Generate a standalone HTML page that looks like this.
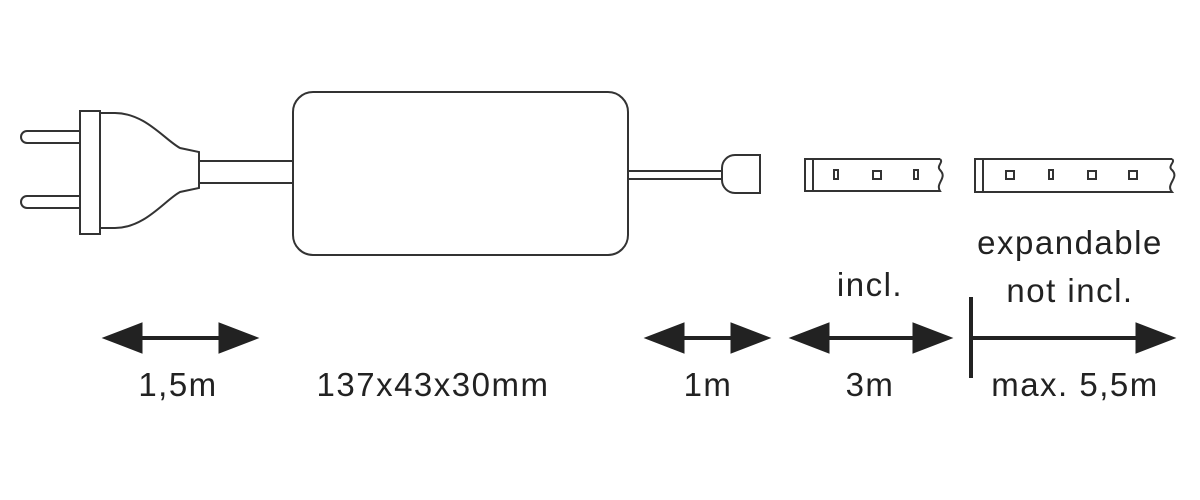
<!DOCTYPE html>
<html><head><style>body{margin:0;background:#fff}svg{display:block}</style></head><body>
<svg width="1200" height="500" viewBox="0 0 1200 500" xmlns="http://www.w3.org/2000/svg">
<g fill="none" stroke="#333" stroke-width="2">
<path d="M80 131 H27 a6 6 0 0 0 0 12 H80"/>
<path d="M80 196 H27 a6 6 0 0 0 0 12 H80"/>
<rect x="80" y="111" width="20" height="123"/>
<path d="M100 113 H115 C145 113 165 140 180 148 L199 152 V188 L180 192 C165 200 145 228 115 228 H100"/>
<path d="M199 161 H293 M199 183 H293"/>
<rect x="293" y="92" width="335" height="163" rx="20"/>
<path d="M628 171 H722 M628 179 H722"/>
<path d="M760 155 H735 a13 13 0 0 0 -13 13 V180 a13 13 0 0 0 13 13 H760 Z"/>
<path d="M940 159 H805 V191 H940 C935 183 948 178 940 170 C936 166 944 162 940 159"/>
<path d="M813 159 V191"/>
<path d="M1172 159 H975 V192 H1172 C1165 184 1180 178 1172 170 C1167 166 1176 162 1172 159"/>
<path d="M983 159 V192"/>
<rect x="834" y="170" width="4" height="9"/><rect x="873" y="171" width="8" height="8"/><rect x="914" y="170" width="4" height="9"/>
<rect x="1006" y="171" width="8" height="8"/><rect x="1049" y="170" width="4" height="9"/><rect x="1088" y="171" width="8" height="8"/><rect x="1129" y="171" width="8" height="8"/>
</g>
<g stroke="#222" stroke-width="4" fill="#222">
<path d="M130 338 H230 M672 338 H735 M818 338 H915 M971 338 H1140 M971 297 V378"/>
<path d="M103 338 L142 323 V353 Z M258 338 L219 323 V353 Z" stroke-width="1"/>
<path d="M645 338 L684 323 V353 Z M770 338 L731 323 V353 Z" stroke-width="1"/>
<path d="M790 338 L829 323 V353 Z M952 338 L913 323 V353 Z" stroke-width="1"/>
<path d="M1175 338 L1136 323 V353 Z" stroke-width="1"/>
</g>
<g font-family="Liberation Sans, sans-serif" font-size="33" fill="#222" text-anchor="middle" letter-spacing="1.5">
<text x="178" y="396">1,5m</text>
<text x="433" y="396">137x43x30mm</text>
<text x="708" y="396">1m</text>
<text x="870" y="396">3m</text>
<text x="1075" y="396">max. 5,5m</text>
<text x="870" y="296">incl.</text>
<text x="1070" y="254">expandable</text>
<text x="1070" y="302">not incl.</text>
</g>
</svg>
</body></html>
